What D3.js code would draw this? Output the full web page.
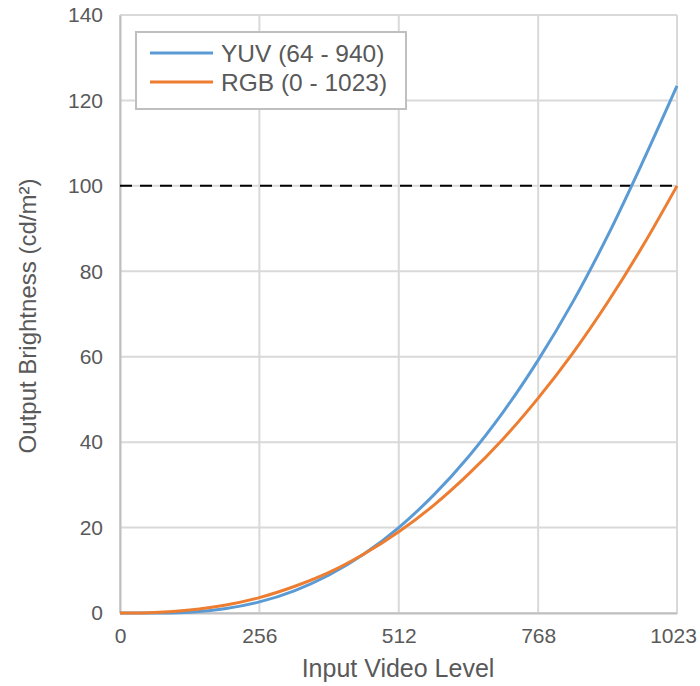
<!DOCTYPE html>
<html>
<head>
<meta charset="utf-8">
<script src="https://cdn.jsdelivr.net/npm/d3@7"></script>
<style>
  body { margin: 0; background: #fff; }
  svg text { font-family: "Liberation Sans", Arial, sans-serif; fill: #595959; }
</style>
</head>
<body>
<svg id="chart" width="700" height="686"></svg>
<script>
// values
const levels = [0, 64, 128, 192, 256, 320, 384, 448, 512, 576, 640, 704, 768, 832, 896, 960, 1023];
const yuv = [0, 0, 0.2, 1.0, 2.6, 5.2, 8.9, 13.8, 20.0, 27.6, 36.6, 47.1, 59.2, 72.9, 88.4, 105.6, 123.4];
const rgb = [0, 0.13, 0.7, 1.8, 3.6, 6.2, 9.5, 13.8, 19.0, 25.2, 32.5, 40.8, 50.3, 60.9, 72.8, 85.9, 100];
const xTicks = [0, 256, 512, 768, 1023];
const yTicks = [0, 20, 40, 60, 80, 100, 120, 140];
const refLevel = 100;
const seriesNames = ['YUV (64 - 940)', 'RGB (0 - 1023)'];
const seriesColors = ['#5b9bd5', '#ed7d31'];

const margin = { top: 15, right: 23, bottom: 73, left: 120 };
const svg = d3.select('#chart');
const width = 700 - margin.left - margin.right;
const height = 686 - margin.top - margin.bottom;
const g = svg.append('g').attr('transform', `translate(${margin.left},${margin.top})`);

const x = d3.scaleLinear().domain([0, 1023]).range([0, width]);
const y = d3.scaleLinear().domain([0, 140]).range([height, 0]);

// grid
g.selectAll('.hgrid').data(yTicks).enter().append('line')
  .attr('x1', 0).attr('x2', width)
  .attr('y1', d => y(d)).attr('y2', d => y(d))
  .attr('stroke', '#d9d9d9').attr('stroke-width', 2);
g.selectAll('.vgrid').data(xTicks).enter().append('line')
  .attr('y1', 0).attr('y2', height)
  .attr('x1', d => x(d)).attr('x2', d => x(d))
  .attr('stroke', '#d9d9d9').attr('stroke-width', 2);

// axes
const xAxis = g.append('g').attr('transform', `translate(0,${height})`)
  .call(d3.axisBottom(x).tickValues(xTicks).tickFormat(d3.format('d')).tickSize(0).tickPadding(15));
const yAxis = g.append('g')
  .call(d3.axisLeft(y).tickValues(yTicks).tickSize(0).tickPadding(17));
[xAxis, yAxis].forEach(a => {
  a.select('.domain').attr('stroke', '#bfbfbf').attr('stroke-width', 2);
  a.selectAll('text').style('font-size', '21px').attr('fill', '#595959');
});
// last x label sits a bit inward to fit the frame
xAxis.selectAll('.tick').filter(d => d === 1023).select('text').attr('dx', -4);

// reference line
g.append('line')
  .attr('x1', 0).attr('x2', width)
  .attr('y1', y(refLevel)).attr('y2', y(refLevel))
  .attr('stroke', '#000').attr('stroke-width', 2).attr('stroke-dasharray', '12,8');

// curves
const line = d3.line().x(d => x(d[0])).y(d => y(d[1])).curve(d3.curveCatmullRom);
[yuv, rgb].forEach((s, i) => {
  g.append('path')
    .datum(levels.map((l, j) => [l, s[j]]))
    .attr('fill', 'none')
    .attr('stroke', seriesColors[i])
    .attr('stroke-width', 3)
    .attr('d', line);
});

// titles
svg.append('text')
  .attr('x', 398).attr('y', 677)
  .attr('text-anchor', 'middle').style('font-size', '25px')
  .text('Input Video Level');
svg.append('text')
  .attr('transform', `translate(36,${margin.top + height / 2 + 2}) rotate(-90)`)
  .attr('text-anchor', 'middle').style('font-size', '24px')
  .text('Output Brightness (cd/m²)');

// legend
const legend = svg.append('g').attr('transform', 'translate(136,32)');
legend.append('rect')
  .attr('width', 270).attr('height', 77)
  .attr('fill', '#fff').attr('stroke', '#bfbfbf').attr('stroke-width', 2);
seriesNames.forEach((name, i) => {
  const ly = 21 + i * 29;
  legend.append('line')
    .attr('x1', 14).attr('x2', 77).attr('y1', ly).attr('y2', ly)
    .attr('stroke', seriesColors[i]).attr('stroke-width', 3);
  legend.append('text')
    .attr('x', 85).attr('y', ly + 9).style('font-size', '24.5px')
    .text(name);
});
</script>
</body>
</html>
